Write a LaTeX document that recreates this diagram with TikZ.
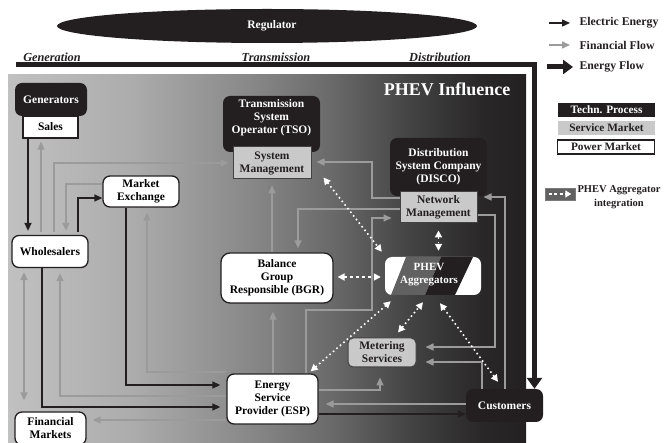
\documentclass[tikz,border=0pt]{standalone}
\usepackage{fontspec}
\setmainfont{Liberation Serif}
\usetikzlibrary{arrows.meta,calc,shapes.geometric}
\definecolor{ink}{RGB}{35,31,32}
\definecolor{g0}{RGB}{224,224,224}
\definecolor{g1}{RGB}{205,205,205}
\definecolor{g2}{RGB}{172,172,172}
\definecolor{g3}{RGB}{135,135,135}
\definecolor{g4}{RGB}{105,105,105}
\definecolor{g5}{RGB}{66,66,66}
\definecolor{g6}{RGB}{41,39,40}
\definecolor{g7}{RGB}{35,31,32}
\definecolor{fingray}{RGB}{155,155,155}
\definecolor{svcgray}{RGB}{201,201,201}
\definecolor{aggray}{RGB}{97,97,97}
\pgfdeclarehorizontalshading{phevbg}{100bp}{color(0bp)=(g0); color(17.76bp)=(g1); color(37.07bp)=(g2); color(48.65bp)=(g3); color(56.37bp)=(g4); color(64.09bp)=(g5); color(70.85bp)=(g6); color(75.68bp)=(g7); color(100bp)=(g7)}
\begin{document}
\begin{tikzpicture}[x=1pt,y=-1pt,
  nf/.style={font=\fontsize{11.5}{13}\selectfont\bfseries},
  techbox/.style={fill=ink, rounded corners=7pt, text=white, nf, align=center, inner sep=0pt},
  pwrbox/.style={fill=white, draw=ink, line width=1.3pt, rounded corners=7pt, nf, align=center, inner sep=0pt},
  plainbox/.style={fill=white, draw=ink, line width=1.2pt, nf, align=center, inner sep=0pt},
  svcbox/.style={fill=svcgray, draw=ink!85, line width=1pt, nf, align=center, inner sep=0pt, text=ink},
  elec/.style={draw=ink, line width=1.3pt, -{Triangle[length=8pt,width=7pt]}},
  fin/.style={draw=fingray, line width=1.5pt, -{Triangle[length=8pt,width=7pt]}},
  agg/.style={draw=white, line width=1.6pt, dash pattern=on 1.6pt off 3pt, {Triangle[length=7pt,width=7pt]}-{Triangle[length=7pt,width=7pt]}},
  stagelbl/.style={font=\fontsize{12.3}{14}\selectfont\bfseries\itshape, text=ink},
  legtxt/.style={font=\fontsize{11.8}{14}\selectfont\bfseries, text=ink},
  legbox/.style={font=\fontsize{11.3}{13}\selectfont\bfseries, minimum width=97pt, minimum height=14pt, inner sep=0pt}
]
\useasboundingbox (0,0) rectangle (664,443);

% background region
\shade[shading=phevbg] (8,75) rectangle (526,443);
\node[anchor=east, text=white, font=\fontsize{18}{20}\selectfont\bfseries] (infl) at (514,89) {PHEV Influence};

% regulator and stage labels
\node[ellipse, fill=ink, minimum width=420pt, minimum height=34pt, inner sep=0pt, text=white, nf] (reg) at (267,26) {\hspace*{10pt}Regulator};
\node[stagelbl] (lgen) at (52,57) {Generation};
\node[stagelbl] (ltra) at (276,57) {Transmission};
\node[stagelbl] (ldis) at (440,57) {Distribution};

% nodes
\node[techbox, minimum width=72pt, minimum height=33pt] (gen) at (51,99.5) {Generators};
\node[plainbox, minimum width=55pt, minimum height=22pt] (sales) at (50.5,127) {Sales};
\node[pwrbox, minimum width=76pt, minimum height=32pt] (wh) at (50,251.5) {Wholesalers};
\node[pwrbox, minimum width=76pt, minimum height=31pt] (mx) at (141,191.5) {Market\\Exchange};
\node[techbox, minimum width=97pt, minimum height=56pt] (tso) at (271.5,124) {};
\node[text=white, nf, align=center] (tsot) at (271.5,118) {Transmission\\System\\Operator (TSO)};
\node[svcbox, minimum width=78pt, minimum height=32pt] (sm) at (272,163) {System\\Management};
\node[techbox, minimum width=97pt, minimum height=58pt] (disco) at (438.5,167) {Distribution\\System Company\\(DISCO)};
\node[svcbox, minimum width=77pt, minimum height=31pt] (nm) at (438.5,207.5) {Network\\Management};
\node[pwrbox, rounded corners=9pt, minimum width=112pt, minimum height=50pt] (bgr) at (277,278) {Balance\\Group\\Responsible (BGR)};
\node[fill=white, rounded corners=7pt, minimum width=96pt, minimum height=38pt, inner sep=0pt] (phev) at (433,276) {};
\begin{scope}
  \clip[rounded corners=7pt] (phev.south west) rectangle (phev.north east);
  \fill[aggray] (406,257) -- (441,257) -- (425,295) -- (391,295) -- cycle;
  \fill[ink] (441,257) -- (473,257) -- (455,295) -- (425,295) -- cycle;
\end{scope}
\node[text=white, font=\fontsize{11}{13}\selectfont\bfseries, align=center] (phevt) at (429,275) {PHEV\\Aggregators};
\node[svcbox, rounded corners=5pt, minimum width=68pt, minimum height=29pt] (met) at (382,352.5) {Metering\\Services};
\node[pwrbox, minimum width=91pt, minimum height=50pt] (esp) at (272.5,399) {Energy\\Service\\Provider (ESP)};
\node[pwrbox, minimum width=71pt, minimum height=33pt] (fm) at (50.5,428.5) {Financial\\Markets};
\node[techbox, minimum width=77pt, minimum height=33pt] (cust) at (504.5,405.5) {Customers};

% energy flow frame
\draw[line width=5pt, draw=ink, line join=miter, -{Triangle[length=11pt,width=15pt]}] (16,64.5) -| (cust.north -| 534.5,0);

% left side connectors
\draw[elec, shorten >=4pt] (sales.south -| 28,0) -- (wh.north -| 28,0);
\draw[fin, shorten <=3pt, shorten >=3pt] (wh.north -| 41,0) -- (sales.south -| 41,0);
\draw[fin, shorten <=3pt, shorten >=4pt] (wh.north -| 54,0) |- (sm.west);
\draw[fin, shorten >=4pt] (mx.west |- 0,184) -| (wh.north -| 66,0);
\draw[elec, shorten <=3pt] (wh.north -| 78,0) |- (mx.west |- 0,198);
\draw[elec, shorten >=6pt] (mx.south -| 126,0) |- (esp.west |- 0,385);
\draw[fin, shorten >=5pt] (esp.west |- 0,372) -| (mx.south -| 147,0);
\draw[fin, shorten >=5pt] (esp.west |- 0,396) -| (wh.south -| 60,0);
\draw[elec, shorten >=6pt] (wh.south -| 42,0) |- (esp.west |- 0,407);
\draw[fin, {Triangle[length=8pt,width=7pt]}-{Triangle[length=8pt,width=7pt]}, shorten <=4pt, shorten >=11pt] (wh.south -| 24,0) -- (fm.north -| 24,0);
\draw[fin, shorten >=6pt] (esp.west |- 0,420) -- (fm.east |- 0,420);

% middle connectors
\draw[fin, shorten >=8pt] (esp.north -| 273,0) -- (bgr.south -| 273,0);
\draw[fin, shorten >=6pt] (bgr.north -| 272,0) -- (sm.south -| 272,0);
\draw[fin, shorten >=4pt] (nm.west |- 0,209) -| (bgr.north -| 298,0);
\draw[fin, shorten >=5pt] (nm.west |- 0,198) -- (372,198) -- (372,162) -- (sm.east |- 0,162);
\draw[fin, shorten >=8pt] (esp.north -| 306,0) -- (306,310) -- (372,310) -- (372,218) -- (nm.west |- 0,218);

% right connectors
\draw[fin, shorten >=6pt] (cust.north -| 505,0) |- (nm.east |- 0,197);
\draw[fin, shorten >=9pt] (nm.east |- 0,215) -- (495,215) -- (495,347) -- (met.east |- 0,347);
\draw[fin, shorten >=9pt] (cust.north -| 482,0) |- (met.east |- 0,362);
\draw[fin, shorten >=7pt] (cust.west |- 0,404) -- (esp.east |- 0,404);
\draw[fin, shorten >=10pt] (esp.east |- 0,390) -| (met.south -| 380,0);
\draw[elec] (esp.east |- 0,414) -- (cust.west |- 0,414);

% PHEV aggregator integration
\draw[agg] ($(sm.south east)+(12,-2)$) -- ($(phev.north west)+(-3,-5)$);
\draw[agg, dash pattern=on 3pt off 3pt, shorten <=4pt, shorten >=4pt] (bgr.east |- 0,277) -- (phev.west |- 0,277);
\draw[agg, shorten <=7pt, shorten >=6pt] (nm.south) -- (nm.south |- phev.north);
\draw[agg] ($(esp.north east)+(-8,-2)$) -- ($(phev.south west)+(6,6)$);
\draw[agg] ($(met.north)+(16,-5)$) -- ($(phev.south)+(-10,7)$);
\draw[agg] ($(phev.south)+(7,8)$) -- ($(cust.north)+(-6.5,-7)$);

% legend
\node[legtxt, anchor=west] (lee) at (576,23) {Electric Energy};
\node[legtxt, anchor=west] (lff) at (576,45) {Financial Flow};
\node[legtxt, anchor=west] (lef) at (576,67) {Energy Flow};
\draw[elec] ($(lee.west)+(-27,0)$) -- ($(lee.west)+(-6,0)$);
\draw[fin] ($(lff.west)+(-27,0)$) -- ($(lff.west)+(-6,0)$);
\draw[line width=5pt, draw=ink, -{Triangle[length=10pt,width=14pt]}] ($(lef.west)+(-29,0)$) -- ($(lef.west)+(-3,0)$);
\node[legbox, fill=ink, text=white] (ltp) at (606.5,110) {Techn. Process};
\node[legbox, fill=svcgray, text=ink] (lsm) at (606.5,128) {Service Market};
\node[legbox, fill=white, draw=ink, line width=1.3pt, text=ink] (lpm) at (606,147) {Power Market};
\node[fill=aggray, draw=ink!60, line width=0.6pt, minimum width=30pt, minimum height=12pt, inner sep=0pt] (lpi) at (560,194) {};
\draw[white, line width=1.4pt, dash pattern=on 3pt off 2.5pt, -{Triangle[length=6pt,width=7pt]}] ($(lpi.west)+(4,0)$) -- ($(lpi.east)+(-4,0)$);
\node[font=\fontsize{10.5}{14}\selectfont\bfseries, text=ink, align=center] (lpt) at (619,197) {PHEV Aggregator\\integration};
\end{tikzpicture}
\end{document}
